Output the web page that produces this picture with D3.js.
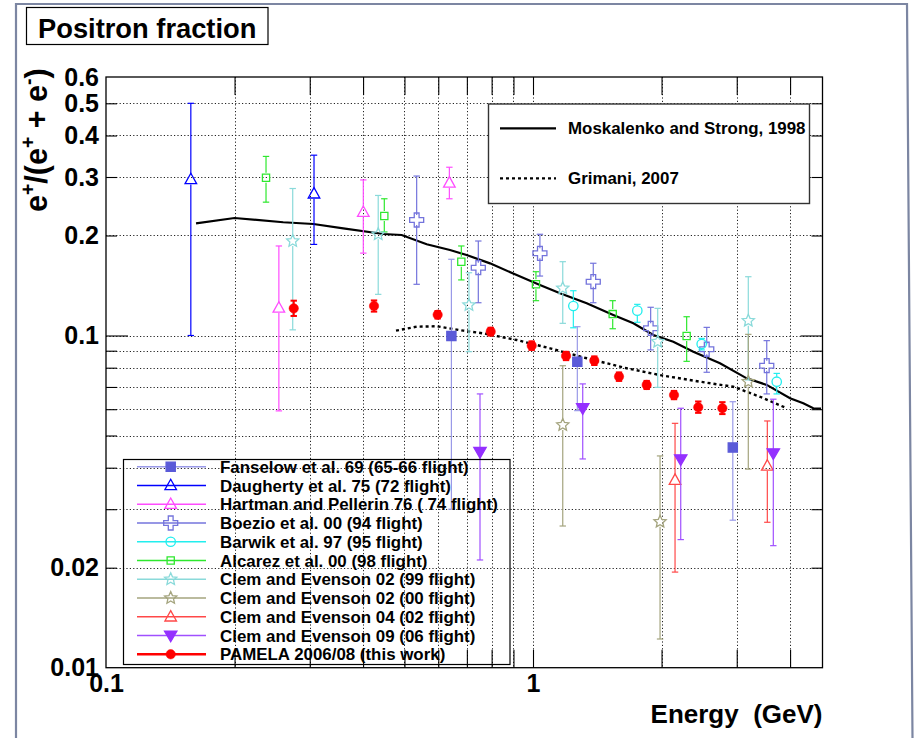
<!DOCTYPE html>
<html><head><meta charset="utf-8">
<script src="https://cdn.jsdelivr.net/npm/d3@7"></script>
<style>
body{margin:0;background:#fff}
svg{display:block}
text{font-family:"Liberation Sans",Arial,Helvetica,sans-serif;font-weight:bold;fill:#000}
</style>
</head><body>
<svg id="c" width="916" height="738"></svg>
<script>
// ---------------- DATA ----------------
const xDomain = [0.1, 4.764];
const yDomain = [0.01, 0.6];
const xLabelValues = [0.1, 1];
const xTickLabels = ["0.1", "1"];
const yLabelValues = [0.01, 0.02, 0.1, 0.2, 0.3, 0.4, 0.5, 0.6];
const yTickLabels = ["0.01", "0.02", "0.1", "0.2", "0.3", "0.4", "0.5", "0.6"];
const xGridValues = [0.2,0.3,0.4,0.5,0.6,0.7,0.8,0.9,1,2,3,4];
const yGridValues = [0.02,0.03,0.04,0.05,0.06,0.07,0.08,0.09,0.1,0.2,0.3,0.4,0.5];
const title = "Positron fraction";
const xTitle = "Energy\u00a0\u00a0(GeV)";

// [energy, value, low, high]
const fanselow = [[0.644,0.0997,0.030,0.1696],[1.27,0.0834,0.0594,0.1063],[2.937,0.046,0.0278,0.0632]];
const daugherty = [[0.158,0.295,0.1,0.5],[0.307,0.267,0.188,0.349]];
const hartman = [[0.254,0.121,0.0593,0.186],[0.4005,0.235,0.177,0.294],[0.637,0.288,0.258,0.321]];
const boezio = [[0.534,0.2227,0.1426,0.302],[0.7446,0.160,0.1255,0.1925],[1.038,0.1768,0.151,0.2017],[1.384,0.1452,0.1255,0.165],[1.886,0.1051,0.0905,0.1216],[2.552,0.0909,0.0775,0.1058],[3.527,0.0811,0.0667,0.0965]];
const barwik = [[1.243,0.1227,0.1055,0.1364],[1.755,0.1188,0.1096,0.1241],[2.483,0.0943,0.0905,0.098],[3.722,0.0726,0.0667,0.0769]];
const alcarez = [[0.237,0.2985,0.252,0.346],[0.4485,0.229,0.205,0.258],[0.6794,0.1668,0.147,0.186],[1.016,0.1426,0.1273,0.1556],[1.537,0.116,0.1048,0.1273],[2.29,0.0997,0.0836,0.1139]];
const clem99 = [[0.2737,0.1925,0.104,0.277],[0.434,0.2017,0.133,0.264],[0.708,0.1235,0.0894,0.1545],[1.174,0.1387,0.1088,0.1668],[1.959,0.0958,0.0698,0.1207],[3.193,0.1108,0.0735,0.1503]];
const clem00 = [[1.174,0.0538,0.0267,0.0811],[1.984,0.0275,0.0122,0.0434],[3.193,0.0726,0.0396,0.1008]];
const clem04 = [[2.151,0.0367,0.0194,0.0544],[3.538,0.0405,0.0274,0.0553]];
const clem09 = [[0.7514,0.0446,0.0211,0.0667],[1.3075,0.0604,0.0425,0.0715],[2.218,0.0424,0.0243,0.0604],[3.654,0.0442,0.0233,0.0643]];
const pamela = [[0.2752,0.1207,0.1145,0.1273],[0.4243,0.1227,0.118,0.1275],[0.598,0.1155,0.1125,0.1185],[0.796,0.1027,0.1,0.1055],[0.993,0.0932,0.0905,0.096],[1.195,0.0868,0.0843,0.0893],[1.392,0.084,0.0815,0.0865],[1.59,0.0752,0.073,0.0774],[1.846,0.071,0.069,0.073],[2.139,0.0662,0.0643,0.0681],[2.438,0.0608,0.0585,0.0633],[2.776,0.0604,0.058,0.063]];

const moskalenkoE = [0.1625,0.2,0.26,0.306,0.3595,0.446,0.4925,0.5637,0.639,0.699,0.793,0.9158,1.038,1.157,1.336,1.542,1.718,1.913,2.131,2.374,2.741,3.166,3.527,3.999,4.295,4.533,4.726];
const moskalenkoV = [0.2176,0.2258,0.2192,0.2166,0.2102,0.2021,0.2007,0.1882,0.1809,0.1747,0.1649,0.1521,0.1419,0.134,0.125,0.1153,0.1088,0.1003,0.0958,0.0894,0.0825,0.0743,0.071,0.0647,0.0625,0.0604,0.0602];
const grimaniE = [0.4777,0.534,0.595,0.687,0.765,0.916,1.096,1.336,1.657,1.984,2.461,2.945,3.401,3.928];
const grimaniV = [0.1034,0.1063,0.1066,0.1034,0.1015,0.0969,0.0915,0.0854,0.0797,0.076,0.0726,0.0701,0.0654,0.0604];

const seriesNames = ["Fanselow et al. 69 (65-66 flight)","Daugherty et al. 75 (72 flight)","Hartman and Pellerin 76 ( 74 flight)","Boezio et al. 00 (94 flight)","Barwik et al. 97 (95 flight)","Alcarez et al. 00 (98 flight)","Clem and Evenson 02 (99 flight)","Clem and Evenson 02 (00 flight)","Clem and Evenson 04 (02 flight)","Clem and Evenson 09 (06 flight)","PAMELA 2006/08 (this work)"];
const seriesData = [fanselow,daugherty,hartman,boezio,barwik,alcarez,clem99,clem00,clem04,clem09,pamela];
const curveNames = ["Moskalenko and Strong, 1998","Grimani, 2007"];

// ---------------- STYLES ----------------
const styles = [
  {c:"#5a5ad8", lc:"#9a9ae8", m:"square", filled:true},
  {c:"#0000ff", lc:"#0000ff", m:"tri", filled:false},
  {c:"#ff4cff", lc:"#ff4cff", m:"tri", filled:false},
  {c:"#7474dc", lc:"#7474dc", m:"cross", filled:false},
  {c:"#22eeee", lc:"#22eeee", m:"circle", filled:false},
  {c:"#2ee82e", lc:"#2ee82e", m:"osquare", filled:false},
  {c:"#8adada", lc:"#8adada", m:"star", filled:false},
  {c:"#a4a47e", lc:"#a4a47e", m:"star", filled:false},
  {c:"#ff4848", lc:"#ff4848", m:"tri", filled:false},
  {c:"#9430ff", lc:"#a050ff", m:"tridown", filled:true},
  {c:"#ff0000", lc:"#ff0000", m:"dot", filled:true}
];

const svg = d3.select("#c");
const X0 = 106, X1 = 822.5, YB = 667.7, YT = 77;
const x = d3.scaleLog().domain(xDomain).range([X0, X1]);
const y = d3.scaleLog().domain(yDomain).range([YB, YT]);

// outer slide frame
svg.append("path").attr("d","M16,738 L16,4 L907,4 L912.5,738")
  .attr("fill","none").attr("stroke","#7c86a2").attr("stroke-width",2.2);

// title box
svg.append("rect").attr("x",26.5).attr("y",7.5).attr("width",241.5).attr("height",37)
  .attr("fill","#fff").attr("stroke","#000").attr("stroke-width",1.2);
svg.append("text").attr("x",38).attr("y",37.5).attr("font-size",27.3).text(title);

// gridlines
const grid = svg.append("g").attr("stroke","#222").attr("stroke-width",1).attr("stroke-dasharray","1.2,2.2");
grid.selectAll(".gx").data(xGridValues).join("line")
  .attr("x1",d=>Math.round(x(d))+0.5).attr("x2",d=>Math.round(x(d))+0.5).attr("y1",YT).attr("y2",YB);
grid.selectAll(".gy").data(yGridValues).join("line")
  .attr("y1",d=>Math.round(y(d))+0.5).attr("y2",d=>Math.round(y(d))+0.5).attr("x1",X0).attr("x2",X1);

// axes (ticks inward)
function styleAxis(g){ g.select(".domain").remove(); g.selectAll(".tick line").attr("stroke","#000").attr("stroke-width",1.1); }
const xMinor = xGridValues.filter(v=>v!==1);
const yMinor = yGridValues.filter(v=>v!==0.1);
svg.append("g").attr("transform",`translate(0,${YB})`)
  .call(d3.axisBottom(x).tickValues(xMinor.concat([1])).tickSize(-18).tickFormat(""))
  .call(styleAxis);
svg.append("g").attr("transform",`translate(0,${YT})`)
  .call(d3.axisTop(x).tickValues(xMinor.concat([1])).tickSize(-18).tickFormat(""))
  .call(styleAxis);
svg.append("g").attr("transform",`translate(${X0},0)`)
  .call(d3.axisLeft(y).tickValues(yMinor).tickSize(-11).tickFormat(""))
  .call(styleAxis);
svg.append("g").attr("transform",`translate(${X0},0)`)
  .call(d3.axisLeft(y).tickValues([0.1]).tickSize(-22).tickFormat(""))
  .call(styleAxis);
svg.append("g").attr("transform",`translate(${X1},0)`)
  .call(d3.axisRight(y).tickValues(yMinor).tickSize(-11).tickFormat(""))
  .call(styleAxis);
svg.append("g").attr("transform",`translate(${X1},0)`)
  .call(d3.axisRight(y).tickValues([0.1]).tickSize(-22).tickFormat(""))
  .call(styleAxis);

// tick labels via axes
const yl = svg.append("g").attr("transform",`translate(${X0},0)`)
  .call(d3.axisLeft(y).tickValues(yLabelValues).tickSize(0).tickPadding(7).tickFormat((d,i)=>yTickLabels[i]));
yl.select(".domain").remove();
yl.selectAll("text").attr("font-size",25).attr("font-family","Liberation Sans, Arial, sans-serif").attr("font-weight","bold").attr("fill","#000");
const xl = svg.append("g").attr("transform",`translate(0,${YB})`)
  .call(d3.axisBottom(x).tickValues(xLabelValues).tickSize(0).tickPadding(7).tickFormat((d,i)=>xTickLabels[i]));
xl.select(".domain").remove();
xl.selectAll("text").attr("font-size",25).attr("font-family","Liberation Sans, Arial, sans-serif").attr("font-weight","bold").attr("fill","#000");

// frame
svg.append("rect").attr("x",X0).attr("y",YT).attr("width",X1-X0).attr("height",YB-YT)
  .attr("fill","none").attr("stroke","#000").attr("stroke-width",1.3);

// axis titles
svg.append("text").attr("x",X1).attr("y",723).attr("text-anchor","end").attr("font-size",26).text(xTitle);
const yt = svg.append("text").attr("transform","translate(47,212) rotate(-90)").attr("font-size",30.5);
yt.append("tspan").text("e");
yt.append("tspan").attr("dy",-12).attr("font-size",19.5).text("+");
yt.append("tspan").attr("dy",12).text("/(e");
yt.append("tspan").attr("dy",-12).attr("font-size",19.5).text("+");
yt.append("tspan").attr("dy",12).text(" + e");
yt.append("tspan").attr("dy",-12).attr("font-size",19.5).text("-");
yt.append("tspan").attr("dy",12).text(")");

// marker shapes
function markerPath(t){
  switch(t){
    case "square": return "M-4.6,-4.6h9.2v9.2h-9.2Z";
    case "osquare": return "M-3.6,-3.6h7.2v7.2h-7.2Z";
    case "tri": return "M0,-6.2L5.8,4.2L-5.8,4.2Z";
    case "tridown": return "M0,6.2L6.2,-4.5L-6.2,-4.5Z";
    case "cross": { const a=7,b=2.4; return `M${-b},${-a}H${b}V${-b}H${a}V${b}H${b}V${a}H${-b}V${b}H${-a}V${-b}H${-b}Z`; }
    case "star": { let p=[]; for(let k=0;k<10;k++){const r=k%2?3:6.4; const an=-Math.PI/2+k*Math.PI/5; p.push([r*Math.cos(an),r*Math.sin(an)]);} return "M"+p.map(q=>q[0].toFixed(2)+","+q[1].toFixed(2)).join("L")+"Z"; }
    case "circle": return d3.arc()({innerRadius:0,outerRadius:4.7,startAngle:0,endAngle:2*Math.PI});
    case "dot": return d3.arc()({innerRadius:0,outerRadius:4.7,startAngle:0,endAngle:2*Math.PI});
  }
}
function drawMarker(g,st,cx,cy){
  g.append("path").attr("d",markerPath(st.m)).attr("transform",`translate(${cx},${cy})`)
    .attr("fill",st.filled?st.c:"none").attr("stroke",st.c).attr("stroke-width",st.m==="dot"?0.5:1.3);
}

// curves
const line = d3.line().x(d=>x(d[0])).y(d=>y(d[1]));
svg.append("path").attr("d",line(moskalenkoE.map((e,i)=>[e,moskalenkoV[i]])))
  .attr("fill","none").attr("stroke","#000").attr("stroke-width",2.2);
svg.append("path").attr("d",line(grimaniE.map((e,i)=>[e,grimaniV[i]])))
  .attr("fill","none").attr("stroke","#000").attr("stroke-width",2.4).attr("stroke-dasharray","3,3");

// data points
seriesData.forEach((data,si)=>{
  const st = styles[si];
  const g = svg.append("g");
  data.forEach(d=>{
    const cx = x(d[0]), cy = y(d[1]), yh = y(d[3]), ylo = y(d[2]);
    const gap = st.filled ? 0 : 5;
    const ew = st.m==="dot" ? 2 : 1.2;
    if (cy - gap > yh) g.append("line").attr("x1",cx).attr("x2",cx).attr("y1",yh).attr("y2",cy-gap).attr("stroke",st.lc).attr("stroke-width",ew);
    if (cy + gap < ylo) g.append("line").attr("x1",cx).attr("x2",cx).attr("y1",cy+gap).attr("y2",Math.min(ylo,YB)).attr("stroke",st.lc).attr("stroke-width",ew);
    [yh, ylo].forEach(v=>{ if(v<YB) g.append("line").attr("x1",cx-3.2).attr("x2",cx+3.2).attr("y1",v).attr("y2",v).attr("stroke",st.lc).attr("stroke-width",ew); });
    drawMarker(g,st,cx,cy);
  });
});

// legend 1 (transparent)
svg.append("rect").attr("x",123.5).attr("y",459.5).attr("width",386.5).attr("height",205)
  .attr("fill","none").attr("stroke","#000").attr("stroke-width",1.2);
seriesNames.forEach((nm,i)=>{
  const st = styles[i];
  const ry = 466.7 + i*18.76;
  svg.append("line").attr("x1",137).attr("x2",206).attr("y1",ry).attr("y2",ry).attr("stroke",st.lc).attr("stroke-width",st.m==="dot"?2.4:1.4);
  drawMarker(svg,st,170.7,ry);
  svg.append("text").attr("x",220).attr("y",ry).attr("dy","0.36em").attr("font-size",16.9).text(nm);
});

// legend 2 (white)
svg.append("rect").attr("x",488.5).attr("y",104).attr("width",321).attr("height",99.5)
  .attr("fill","#fff").attr("stroke","#333").attr("stroke-width",1.4);
svg.append("line").attr("x1",500).attr("x2",556).attr("y1",128.3).attr("y2",128.3).attr("stroke","#000").attr("stroke-width",2.2);
svg.append("line").attr("x1",500).attr("x2",556).attr("y1",178.3).attr("y2",178.3).attr("stroke","#000").attr("stroke-width",2.2).attr("stroke-dasharray","3,3");
svg.append("text").attr("x",568).attr("y",128.3).attr("dy","0.36em").attr("font-size",16.9).text(curveNames[0]);
svg.append("text").attr("x",568).attr("y",178.3).attr("dy","0.36em").attr("font-size",16.9).text(curveNames[1]);
</script>
</body></html>
